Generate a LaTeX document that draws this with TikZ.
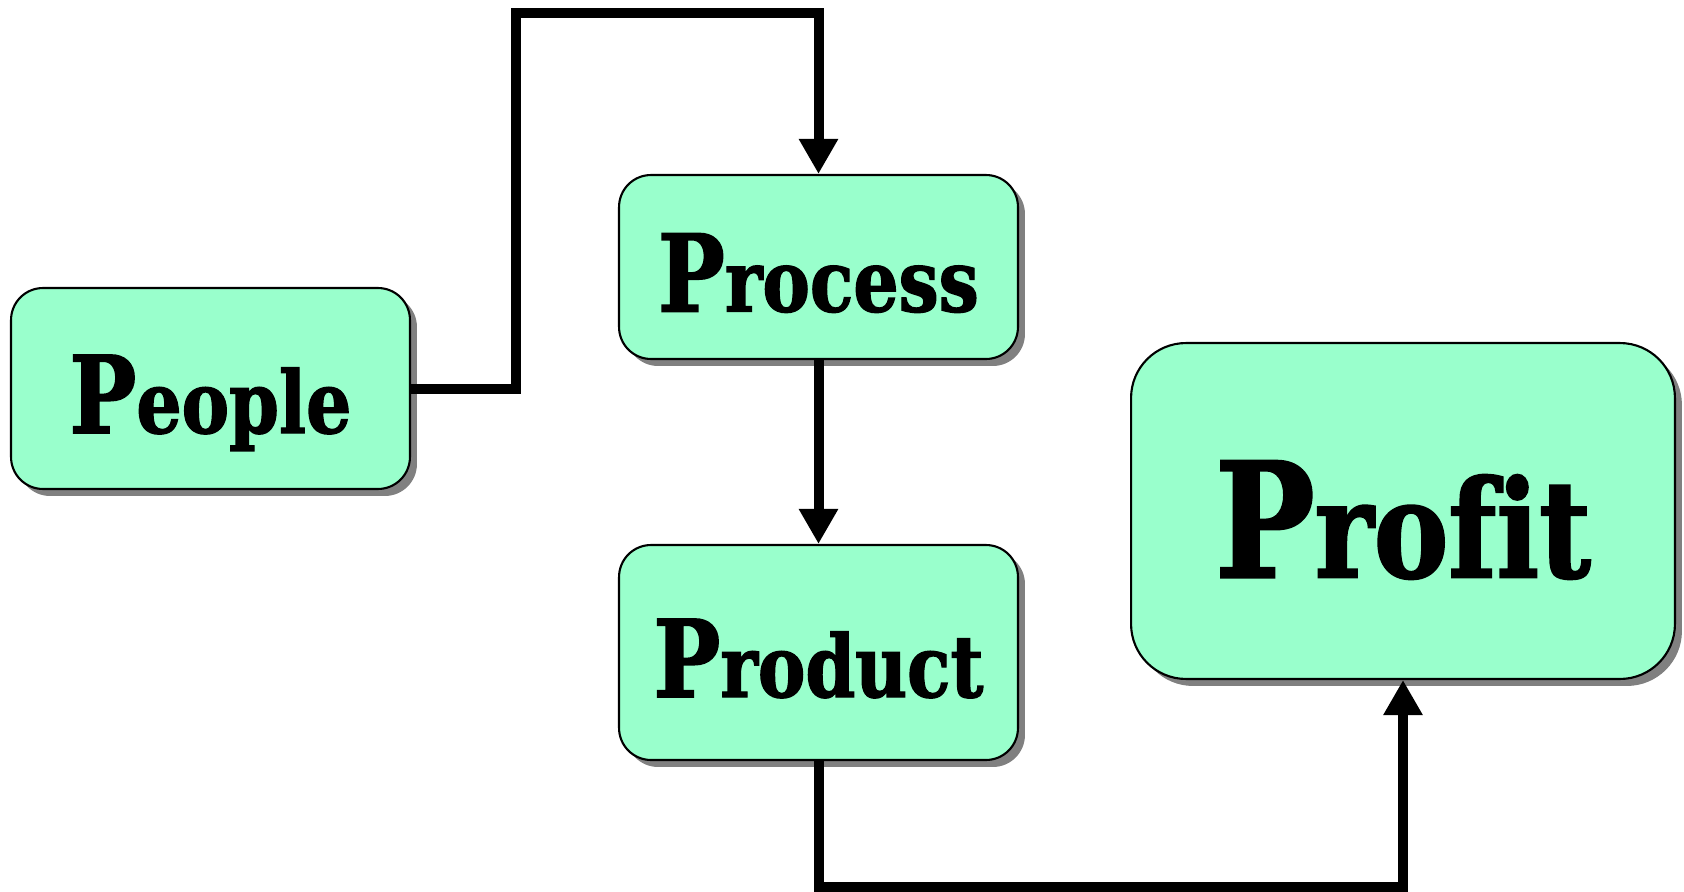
\documentclass[tikz,border=0pt]{standalone}
\usepackage{fontspec}
\setmainfont{DejaVu Serif Condensed}[FakeStretch=0.92, Ligatures=CommonOff, BoldFeatures={FakeBold=1.5}]
\usepackage{tikz}
\usetikzlibrary{arrows.meta, shadows}
\definecolor{mint}{RGB}{153,255,204}
\definecolor{shade}{RGB}{128,128,128}
\tikzstyle{pbox} = [rectangle, rounded corners=0.64cm, line width=1.2pt, draw=black, fill=mint, text centered, inner sep=0pt, text depth=0pt, font=\bfseries, drop shadow={shadow xshift=0.14cm, shadow yshift=-0.14cm, fill=shade, opacity=1}]
\tikzstyle{arrow} = [line width=0.2cm, -{Triangle[length=0.7cm, width=0.74cm]}]
\tikzstyle{line} = [line width=0.2cm, -]
\newcommand{\pword}[3]{\raisebox{-0.14\height}{{\fontsize{#1}{#1}\selectfont P}{\fontsize{#2}{#2}\selectfont #3}}}

\begin{document}
\begin{tikzpicture}[x=0.02cm, y=-0.02cm]
     \useasboundingbox (0, 0) rectangle (1684, 892);
     \node (people) at (210.5, 388.5) [pbox, minimum width=7.98cm, minimum height=4.02cm] {\pword{61}{49}{eople}};
     \node (process) at (818.5, 267) [pbox, minimum width=7.98cm, minimum height=3.68cm] {\pword{61}{49}{rocess}};
     \node (product) at (818.5, 652.5) [pbox, minimum width=7.98cm, minimum height=4.3cm] {\pword{61}{49}{roduct}};
     \node (profit) at (1403, 511) [pbox, rounded corners=1.1cm, minimum width=10.88cm, minimum height=6.72cm] {\pword{91}{77}{rofit}};
     \coordinate (top) at (515.5, 13);
     \coordinate (bottom) at (1403, 887);
     \draw[arrow] (people.east) -| (top) -| (process.north);
     \draw[arrow] (process.south) -- (product.north);
     \draw[arrow] (product.south) |- (bottom) -- (profit.south);
\end{tikzpicture}
\end{document}
